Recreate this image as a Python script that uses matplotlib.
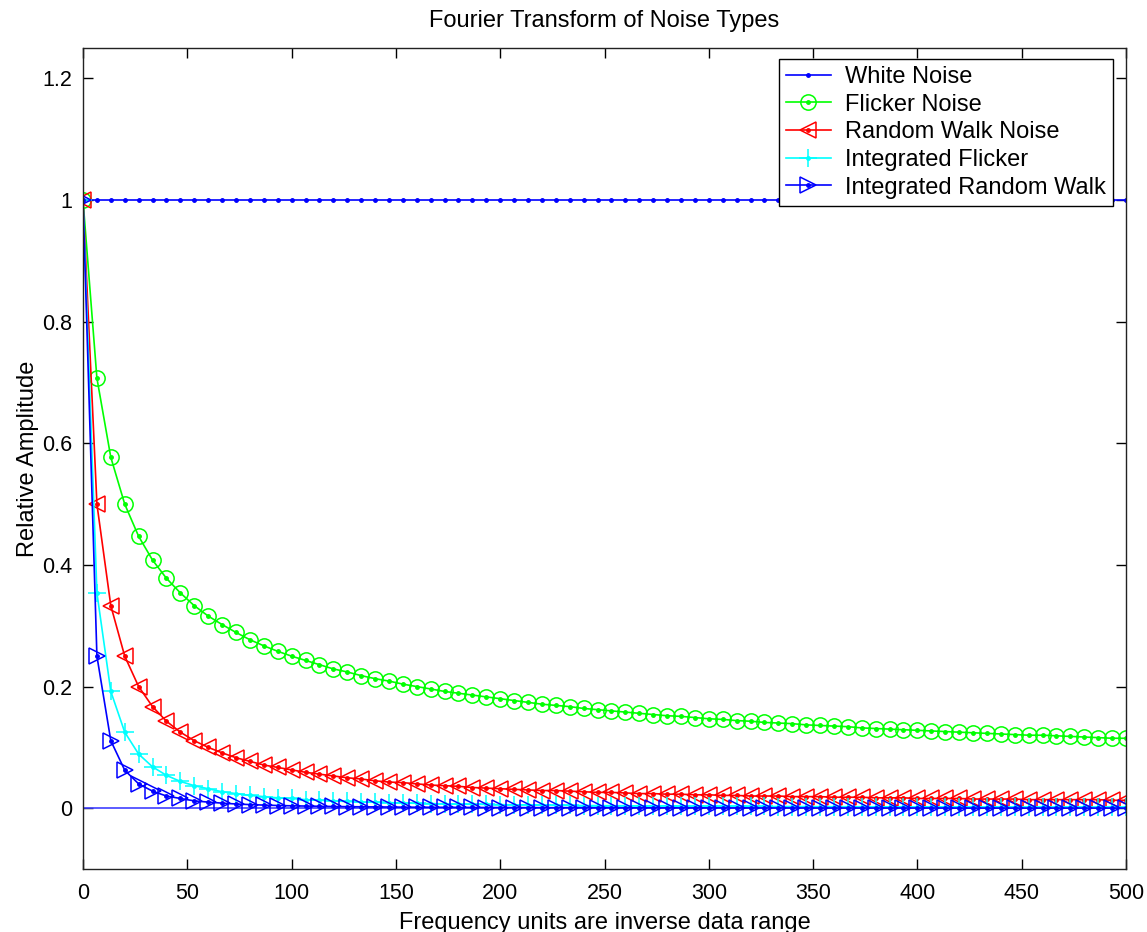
import matplotlib
matplotlib.use("Agg")
import matplotlib.pyplot as plt
from matplotlib.legend_handler import HandlerTuple

plt.rcParams['font.family'] = ['Liberation Sans', 'DejaVu Sans']

# frequency axis (inverse data range units)
freq = [0, 6.67, 13.33, 20, 26.67, 33.33, 40, 46.67, 53.33, 60,
        66.67, 73.33, 80, 86.67, 93.33, 100, 106.67, 113.33, 120, 126.67,
        133.33, 140, 146.67, 153.33, 160, 166.67, 173.33, 180, 186.67, 193.33,
        200, 206.67, 213.33, 220, 226.67, 233.33, 240, 246.67, 253.33, 260,
        266.67, 273.33, 280, 286.67, 293.33, 300, 306.67, 313.33, 320, 326.67,
        333.33, 340, 346.67, 353.33, 360, 366.67, 373.33, 380, 386.67, 393.33,
        400, 406.67, 413.33, 420, 426.67, 433.33, 440, 446.67, 453.33, 460,
        466.67, 473.33, 480, 486.67, 493.33, 500]

white = [1.0, 1.0, 1.0, 1.0, 1.0, 1.0, 1.0, 1.0, 1.0, 1.0,
         1.0, 1.0, 1.0, 1.0, 1.0, 1.0, 1.0, 1.0, 1.0, 1.0,
         1.0, 1.0, 1.0, 1.0, 1.0, 1.0, 1.0, 1.0, 1.0, 1.0,
         1.0, 1.0, 1.0, 1.0, 1.0, 1.0, 1.0, 1.0, 1.0, 1.0,
         1.0, 1.0, 1.0, 1.0, 1.0, 1.0, 1.0, 1.0, 1.0, 1.0,
         1.0, 1.0, 1.0, 1.0, 1.0, 1.0, 1.0, 1.0, 1.0, 1.0,
         1.0, 1.0, 1.0, 1.0, 1.0, 1.0, 1.0, 1.0, 1.0, 1.0,
         1.0, 1.0, 1.0, 1.0, 1.0, 1.0]

flicker = [1.000, 0.707, 0.577, 0.500, 0.447, 0.408, 0.378, 0.354, 0.333, 0.316,
           0.302, 0.289, 0.277, 0.267, 0.258, 0.250, 0.243, 0.236, 0.229, 0.224,
           0.218, 0.213, 0.209, 0.204, 0.200, 0.196, 0.192, 0.189, 0.186, 0.183,
           0.180, 0.177, 0.174, 0.171, 0.169, 0.167, 0.164, 0.162, 0.160, 0.158,
           0.156, 0.154, 0.152, 0.151, 0.149, 0.147, 0.146, 0.144, 0.143, 0.141,
           0.140, 0.139, 0.137, 0.136, 0.135, 0.134, 0.132, 0.131, 0.130, 0.129,
           0.128, 0.127, 0.126, 0.125, 0.124, 0.123, 0.122, 0.121, 0.120, 0.120,
           0.119, 0.118, 0.117, 0.116, 0.115, 0.115]

random_walk = [1.000, 0.500, 0.333, 0.250, 0.200, 0.167, 0.143, 0.125, 0.111, 0.100,
               0.091, 0.083, 0.077, 0.071, 0.067, 0.063, 0.059, 0.056, 0.053, 0.050,
               0.048, 0.045, 0.043, 0.042, 0.040, 0.038, 0.037, 0.036, 0.034, 0.033,
               0.032, 0.031, 0.030, 0.029, 0.029, 0.028, 0.027, 0.026, 0.026, 0.025,
               0.024, 0.024, 0.023, 0.023, 0.022, 0.022, 0.021, 0.021, 0.020, 0.020,
               0.020, 0.019, 0.019, 0.019, 0.018, 0.018, 0.018, 0.017, 0.017, 0.017,
               0.016, 0.016, 0.016, 0.016, 0.015, 0.015, 0.015, 0.015, 0.014, 0.014,
               0.014, 0.014, 0.014, 0.014, 0.013, 0.013]

int_flicker = [1.000, 0.354, 0.192, 0.125, 0.089, 0.068, 0.054, 0.044, 0.037, 0.032,
               0.027, 0.024, 0.021, 0.019, 0.017, 0.016, 0.014, 0.013, 0.012, 0.011,
               0.010, 0.0097, 0.0091, 0.0085, 0.0080, 0.0075, 0.0071, 0.0067, 0.0064, 0.0061,
               0.0058, 0.0055, 0.0053, 0.0050, 0.0048, 0.0046, 0.0044, 0.0043, 0.0041, 0.0040,
               0.0038, 0.0037, 0.0035, 0.0034, 0.0033, 0.0032, 0.0031, 0.0030, 0.0029, 0.0028,
               0.0027, 0.0027, 0.0026, 0.0025, 0.0025, 0.0024, 0.0023, 0.0023, 0.0022, 0.0022,
               0.0021, 0.0020, 0.0020, 0.0020, 0.0019, 0.0019, 0.0018, 0.0018, 0.0017, 0.0017,
               0.0017, 0.0016, 0.0016, 0.0016, 0.0015, 0.0015]

int_random_walk = [1.000, 0.250, 0.111, 0.0625, 0.040, 0.028, 0.020, 0.016, 0.012, 0.010,
                   0.0083, 0.0069, 0.0059, 0.0051, 0.0044, 0.0039, 0.0035, 0.0031, 0.0028, 0.0025,
                   0.0023, 0.0021, 0.0019, 0.0017, 0.0016, 0.0015, 0.0014, 0.0013, 0.0012, 0.0011,
                   0.0010, 0.0010, 0.0009, 0.0009, 0.0008, 0.0008, 0.0007, 0.0007, 0.0007, 0.0006,
                   0.0006, 0.0006, 0.0005, 0.0005, 0.0005, 0.0005, 0.0005, 0.0004, 0.0004, 0.0004,
                   0.0004, 0.0004, 0.0004, 0.0003, 0.0003, 0.0003, 0.0003, 0.0003, 0.0003, 0.0003,
                   0.0003, 0.0003, 0.0003, 0.0002, 0.0002, 0.0002, 0.0002, 0.0002, 0.0002, 0.0002,
                   0.0002, 0.0002, 0.0002, 0.0002, 0.0002, 0.0002]

zero_line_x = [0, 500]
zero_line_y = [0, 0]

labels = ['White Noise', 'Flicker Noise', 'Random Walk Noise',
          'Integrated Flicker', 'Integrated Random Walk']

FS = 17      # title / labels / legend
TICK_FS = 15.5

fig = plt.figure(figsize=(11.47, 9.32), dpi=100)
ax = fig.add_axes([83 / 1147, 63 / 932, (1126 - 83) / 1147, (869 - 48) / 932])

ax.plot(zero_line_x, zero_line_y, color=(0.25, 0.25, 1.0), lw=1.2)

# (values, color, marker, marker size)
series = [
    (white, 'blue', None, 0),
    (flicker, (0, 1, 0), 'o', 11),
    (random_walk, 'red', '<', 11),
    (int_flicker, 'cyan', '+', 13),
    (int_random_walk, 'blue', '>', 11),
]

handles = []
for vals, col, mk, ms in series:
    ln, = ax.plot(freq, vals, '.-', color=col, lw=1.2, ms=5)
    if mk is None:
        handles.append(ln)
        continue
    mkl, = ax.plot(freq, vals, linestyle='none', marker=mk, ms=ms,
                   mfc='none', mec=col, mew=1.1)
    handles.append((ln, mkl))

ax.set_xlim(0, 500)
ax.set_ylim(-0.1, 1.25)
ax.set_xticks(range(0, 501, 50))
ax.set_yticks([0, 0.2, 0.4, 0.6, 0.8, 1.0, 1.2])
ax.set_yticklabels(['0', '0.2', '0.4', '0.6', '0.8', '1', '1.2'])
ax.tick_params(direction='in', length=7, width=1, top=True, right=True,
               labelsize=TICK_FS)
ax.tick_params(axis='x', pad=10)
ax.tick_params(axis='y', pad=8)
for sp in ax.spines.values():
    sp.set_linewidth(1)
    sp.set_color('#222222')

ax.set_title('Fourier Transform of Noise Types', fontsize=FS, pad=15)
ax.set_xlabel('Frequency units are inverse data range', fontsize=FS, labelpad=6)
ax.set_ylabel('Relative Amplitude', fontsize=FS, labelpad=2)

leg = ax.legend(handles, labels, loc='upper right',
                bbox_to_anchor=(1113 / 1147, 1 - 59 / 932),
                bbox_transform=fig.transFigure, borderaxespad=0,
                fontsize=FS, fancybox=False, framealpha=1, edgecolor='black',
                handlelength=1.9, handletextpad=0.6, labelspacing=0.24,
                borderpad=0.3, numpoints=1,
                handler_map={tuple: HandlerTuple(ndivide=1, pad=0)})
leg.get_frame().set_linewidth(1)

fig.savefig('out.png', dpi=100)
